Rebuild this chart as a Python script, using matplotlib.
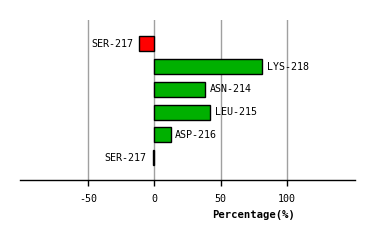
import matplotlib
matplotlib.use('Agg')
import matplotlib.pyplot as plt
import matplotlib.transforms as mtransforms

# ---------------------------------------------------------------------------
# Data (top to bottom)
# ---------------------------------------------------------------------------
residues = ['SER-217', 'LYS-218', 'ASN-214', 'LEU-215', 'ASP-216', 'SER-217']
values = [-11.3, 81.4, 38.3, 42.3, 12.3, -0.9]
xticks = [-50, 0, 50, 100]

RED = '#FF0000'
GREEN = '#00B000'
GRID = '#A0A0A0'
FONT = 'DejaVu Sans Mono'

fig = plt.figure(figsize=(3.74, 2.40), dpi=100)
fig.patch.set_facecolor('white')
ax = fig.add_axes([20 / 374, 60 / 240, 335 / 374, 160 / 240])

n = len(values)
ypos = [n - 1 - i for i in range(n)]
colors = [RED if v < -5 else (GREEN if v > 0 else 'black') for v in values]

ax.barh(ypos, values, height=0.66, color=colors, edgecolor='black',
        linewidth=1.0, zorder=3)

# residue labels: right of positive bars, left of negative ones
for y, v, name in zip(ypos, values, residues):
    if v > 0:
        ax.annotate(name, (v, y), xytext=(3, 0), textcoords='offset points',
                    ha='left', va='center', fontsize=7.2, family=FONT, zorder=4)
    else:
        ax.annotate(name, (v, y), xytext=(-4.5, 0), textcoords='offset points',
                    ha='right', va='center', fontsize=7.2, family=FONT, zorder=4)

ax.set_xlim(-101, 151)
ax.set_ylim(-0.98, 6.05)

for gx in xticks:
    ax.axvline(gx, color=GRID, linewidth=1.0, zorder=1)

ax.set_xticks(xticks)
ax.set_xticklabels([str(t) for t in xticks], fontsize=7.2, family=FONT)
ax.tick_params(axis='x', direction='out', length=4, width=1, color='black', pad=6)
ax.set_yticks([])

for s in ['left', 'right', 'top']:
    ax.spines[s].set_visible(False)
ax.spines['bottom'].set_linewidth(1.0)

trans = mtransforms.blended_transform_factory(ax.transData, fig.transFigure)
ax.text(75, 1 - 215 / 240, 'Percentage(%)', transform=trans, ha='center', va='center',
        fontsize=7.6, family=FONT, fontweight='bold')

fig.savefig('out.png', dpi=100, facecolor='white')
